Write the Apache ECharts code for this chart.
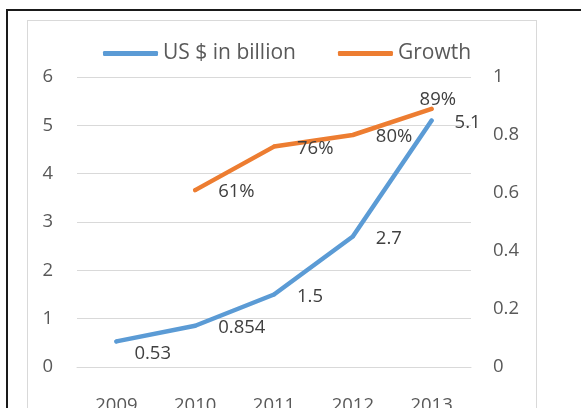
<!DOCTYPE html>
<html>
<head>
<meta charset="utf-8">
<script src="https://cdn.jsdelivr.net/npm/echarts@6/dist/echarts.min.js"></script>
<style>
  html, body { margin: 0; padding: 0; background: #fff; overflow: hidden; }
  #frame { position: absolute; left: 6px; top: 9px; width: 600px; height: 420px;
           border-left: 2px solid #1a1a1a; border-top: 2px solid #1a1a1a; }
  #panel { position: absolute; left: 27px; top: 20px; width: 508px; height: 420px;
           border: 1px solid #d9d9d9; }
  #chart { position: absolute; left: 0; top: 0; width: 581px; height: 408px; }
</style>
</head>
<body>
<div id="frame"></div>
<div id="panel"></div>
<div id="chart"></div>
<script>
// Market size (US$ billion) and year-on-year growth, 2009-2013
const years = ['2009', '2010', '2011', '2012', '2013'];
const revenue = [0.53, 0.854, 1.5, 2.7, 5.1];
const growth = [null, 0.61, 0.76, 0.80, 0.89];
const leftTicks = { min: 0, max: 6, step: 1 };
const rightTicks = { min: 0, max: 1, step: 0.2 };

const FONT = 'Open Sans';
const BLUE = '#5b9bd5';
const ORANGE = '#ed7d31';

// label nudges where neighbouring marks would collide
const revenueLabelShift = { 0: [-5, 12] };
const growthLabelShift = { 4: [-35, -9] };

function withShift(values, shifts) {
  return values.map((v, i) => shifts[i] ? { value: v, label: { offset: shifts[i] } } : v);
}

const labelBase = {
  show: true, position: 'right', distance: 21,
  fontFamily: FONT, fontSize: 18.5, color: '#404040'
};

const axisText = { fontFamily: FONT, fontSize: 18.5, color: '#595959' };

const chart = echarts.init(document.getElementById('chart'), null, { renderer: 'canvas' });
chart.setOption({
  animation: false,
  textStyle: { fontFamily: FONT },
  legend: {
    top: 43, left: 103, padding: 0,
    itemWidth: 55, itemHeight: 5, itemGap: 42,
    textStyle: { fontFamily: FONT, fontSize: 21, color: '#595959' },
    data: [
      { name: 'US $ in billion', icon: 'roundRect', itemStyle: { color: BLUE } },
      { name: 'Growth', icon: 'roundRect', itemStyle: { color: ORANGE } }
    ]
  },
  grid: { left: 77, right: 110, top: 77, bottom: 41, outerBoundsMode: 'none', containLabel: false },
  xAxis: {
    type: 'category', data: years, boundaryGap: true,
    axisLine: { lineStyle: { color: '#d9d9d9', width: 1 } },
    axisTick: { show: false },
    axisLabel: Object.assign({ margin: 29 }, axisText)
  },
  yAxis: [
    {
      type: 'value', min: leftTicks.min, max: leftTicks.max, interval: leftTicks.step,
      axisLine: { show: false }, axisTick: { show: false },
      splitLine: { lineStyle: { color: '#d9d9d9', width: 1 } },
      axisLabel: Object.assign({ margin: 24, padding: [5, 0, 0, 0] }, axisText)
    },
    {
      type: 'value', min: rightTicks.min, max: rightTicks.max, interval: rightTicks.step,
      axisLine: { show: false }, axisTick: { show: false }, splitLine: { show: false },
      axisLabel: Object.assign({ margin: 22, padding: [5, 0, 0, 0] }, axisText)
    }
  ],
  series: [
    {
      name: 'US $ in billion', type: 'line', yAxisIndex: 0,
      data: withShift(revenue, revenueLabelShift),
      symbol: 'circle', symbolSize: 4, showSymbol: true,
      lineStyle: { color: BLUE, width: 4.5, cap: 'round', join: 'round' },
      itemStyle: { color: BLUE },
      label: Object.assign({}, labelBase, { offset: [0, 2] })
    },
    {
      name: 'Growth', type: 'line', yAxisIndex: 1,
      data: withShift(growth, growthLabelShift),
      symbol: 'circle', symbolSize: 4, showSymbol: true,
      lineStyle: { color: ORANGE, width: 4.5, cap: 'round', join: 'round' },
      itemStyle: { color: ORANGE },
      label: Object.assign({}, labelBase, {
        offset: [0, 2],
        formatter: p => Math.round(p.value * 100) + '%'
      })
    }
  ]
});
</script>
</body>
</html>
